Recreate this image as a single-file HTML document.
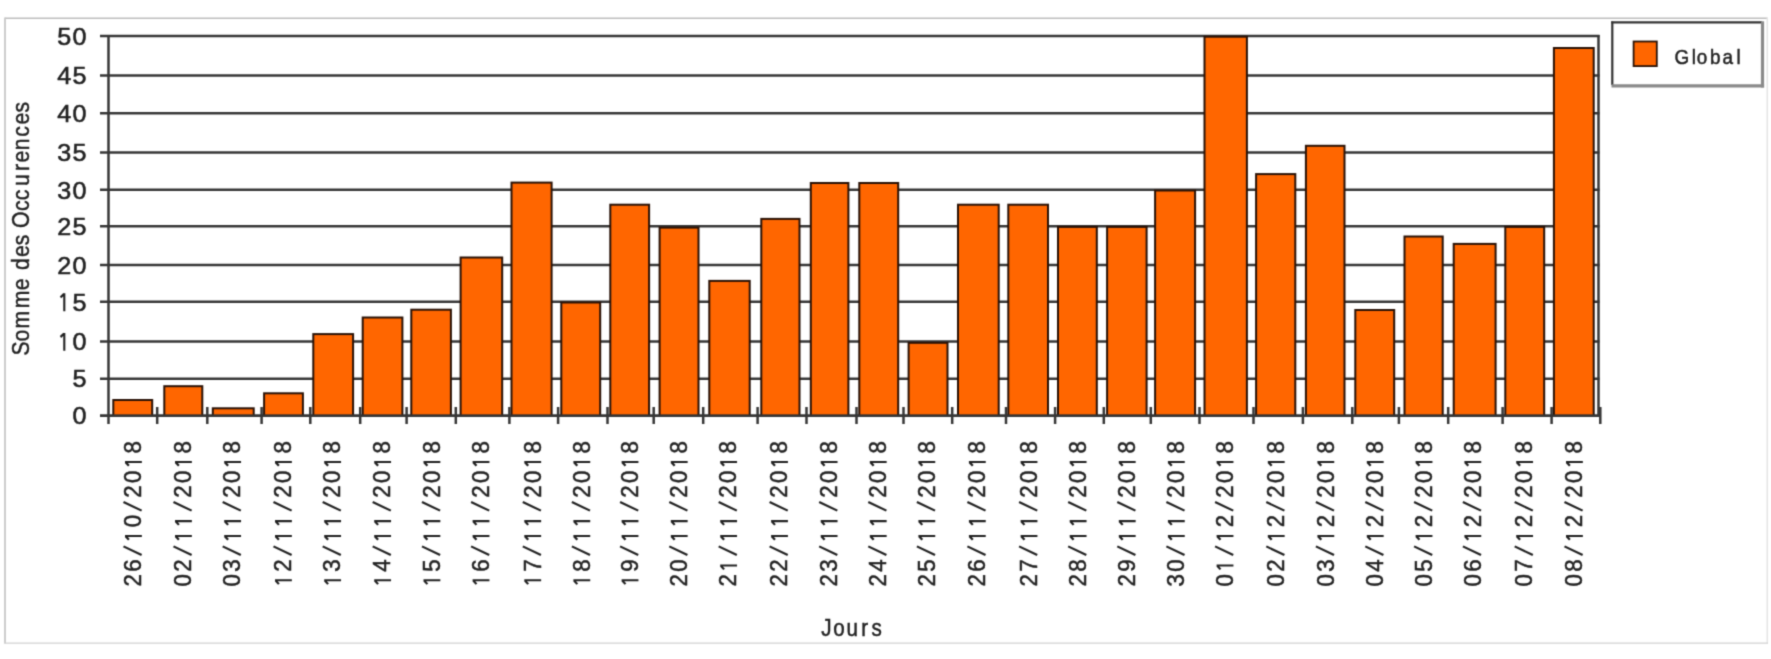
<!DOCTYPE html><html><head><meta charset="utf-8"><style>html,body{margin:0;padding:0;background:#fff;}svg{display:block;}text{font-family:"Liberation Sans", sans-serif;stroke:#222;stroke-width:0.5px;}</style></head><body><div id="w">
<svg width="1771" height="659" viewBox="0 0 1771 659">
<defs><filter id="bl" x="0" y="0" width="1771" height="659" filterUnits="userSpaceOnUse" color-interpolation-filters="sRGB"><feConvolveMatrix order="3" kernelMatrix="0.02768 0.11101 0.02768 0.11101 0.44521 0.11101 0.02768 0.11101 0.02768" divisor="1" edgeMode="duplicate"/></filter></defs>
<rect x="0" y="0" width="1771" height="659" fill="#fff"/>
<g filter="url(#bl)">
<line x1="5" y1="18.3" x2="1767.5" y2="18.3" stroke="#bdbdbd" stroke-width="1.5"/>
<line x1="5" y1="17.6" x2="5" y2="643.6" stroke="#c8c8c8" stroke-width="1.8"/>
<line x1="1767.3" y1="17.6" x2="1767.3" y2="643.6" stroke="#e4e4e4" stroke-width="1.5"/>
<line x1="4.2" y1="643.1" x2="1768" y2="643.1" stroke="#d2d2d2" stroke-width="1.3"/>
<line x1="100" y1="36.1" x2="1599.5" y2="36.1" stroke="#363636" stroke-width="2.5"/>
<line x1="100" y1="75.4" x2="1599.5" y2="75.4" stroke="#363636" stroke-width="2.5"/>
<line x1="100" y1="113.2" x2="1599.5" y2="113.2" stroke="#363636" stroke-width="2.5"/>
<line x1="100" y1="152.5" x2="1599.5" y2="152.5" stroke="#363636" stroke-width="2.5"/>
<line x1="100" y1="189.8" x2="1599.5" y2="189.8" stroke="#363636" stroke-width="2.5"/>
<line x1="100" y1="226.2" x2="1599.5" y2="226.2" stroke="#363636" stroke-width="2.5"/>
<line x1="100" y1="265.1" x2="1599.5" y2="265.1" stroke="#363636" stroke-width="2.5"/>
<line x1="100" y1="301.8" x2="1599.5" y2="301.8" stroke="#363636" stroke-width="2.5"/>
<line x1="100" y1="341.5" x2="1599.5" y2="341.5" stroke="#363636" stroke-width="2.5"/>
<line x1="100" y1="378.7" x2="1599.5" y2="378.7" stroke="#363636" stroke-width="2.5"/>
<line x1="100" y1="415.7" x2="1599.5" y2="415.7" stroke="#363636" stroke-width="2.5"/>
<line x1="108.5" y1="35.1" x2="108.5" y2="424" stroke="#363636" stroke-width="2.5"/>
<line x1="1598.5" y1="35.1" x2="1598.5" y2="415.7" stroke="#363636" stroke-width="2.5"/>
<rect x="113.30" y="400.00" width="38.90" height="15.70" fill="#ff6600" stroke="#2a1206" stroke-width="2"/>
<rect x="164.30" y="386.20" width="38.00" height="29.50" fill="#ff6600" stroke="#2a1206" stroke-width="2"/>
<rect x="212.80" y="408.30" width="40.90" height="7.40" fill="#ff6600" stroke="#2a1206" stroke-width="2"/>
<rect x="264.10" y="393.30" width="38.80" height="22.40" fill="#ff6600" stroke="#2a1206" stroke-width="2"/>
<rect x="313.30" y="334.10" width="39.80" height="81.60" fill="#ff6600" stroke="#2a1206" stroke-width="2"/>
<rect x="362.70" y="317.50" width="39.70" height="98.20" fill="#ff6600" stroke="#2a1206" stroke-width="2"/>
<rect x="411.30" y="309.70" width="39.60" height="106.00" fill="#ff6600" stroke="#2a1206" stroke-width="2"/>
<rect x="460.60" y="257.50" width="41.60" height="158.20" fill="#ff6600" stroke="#2a1206" stroke-width="2"/>
<rect x="511.50" y="182.60" width="40.10" height="233.10" fill="#ff6600" stroke="#2a1206" stroke-width="2"/>
<rect x="561.30" y="302.50" width="38.90" height="113.20" fill="#ff6600" stroke="#2a1206" stroke-width="2"/>
<rect x="610.30" y="204.70" width="38.80" height="211.00" fill="#ff6600" stroke="#2a1206" stroke-width="2"/>
<rect x="659.60" y="227.60" width="38.90" height="188.10" fill="#ff6600" stroke="#2a1206" stroke-width="2"/>
<rect x="709.30" y="280.90" width="40.40" height="134.80" fill="#ff6600" stroke="#2a1206" stroke-width="2"/>
<rect x="761.30" y="218.90" width="38.20" height="196.80" fill="#ff6600" stroke="#2a1206" stroke-width="2"/>
<rect x="810.80" y="183.00" width="37.60" height="232.70" fill="#ff6600" stroke="#2a1206" stroke-width="2"/>
<rect x="859.30" y="183.00" width="38.90" height="232.70" fill="#ff6600" stroke="#2a1206" stroke-width="2"/>
<rect x="908.60" y="342.80" width="38.90" height="72.90" fill="#ff6600" stroke="#2a1206" stroke-width="2"/>
<rect x="958.00" y="204.70" width="40.70" height="211.00" fill="#ff6600" stroke="#2a1206" stroke-width="2"/>
<rect x="1008.30" y="204.70" width="39.70" height="211.00" fill="#ff6600" stroke="#2a1206" stroke-width="2"/>
<rect x="1058.00" y="226.90" width="38.80" height="188.80" fill="#ff6600" stroke="#2a1206" stroke-width="2"/>
<rect x="1107.10" y="226.90" width="39.50" height="188.80" fill="#ff6600" stroke="#2a1206" stroke-width="2"/>
<rect x="1155.10" y="190.50" width="40.00" height="225.20" fill="#ff6600" stroke="#2a1206" stroke-width="2"/>
<rect x="1204.50" y="36.70" width="42.40" height="379.00" fill="#ff6600" stroke="#2a1206" stroke-width="2"/>
<rect x="1256.10" y="174.10" width="39.20" height="241.60" fill="#ff6600" stroke="#2a1206" stroke-width="2"/>
<rect x="1305.90" y="145.80" width="38.60" height="269.90" fill="#ff6600" stroke="#2a1206" stroke-width="2"/>
<rect x="1355.30" y="310.00" width="38.90" height="105.70" fill="#ff6600" stroke="#2a1206" stroke-width="2"/>
<rect x="1404.50" y="236.50" width="38.20" height="179.20" fill="#ff6600" stroke="#2a1206" stroke-width="2"/>
<rect x="1453.70" y="243.90" width="41.90" height="171.80" fill="#ff6600" stroke="#2a1206" stroke-width="2"/>
<rect x="1505.30" y="226.90" width="38.90" height="188.80" fill="#ff6600" stroke="#2a1206" stroke-width="2"/>
<rect x="1553.90" y="48.00" width="39.80" height="367.70" fill="#ff6600" stroke="#2a1206" stroke-width="2"/>
<line x1="100" y1="415.7" x2="1599.5" y2="415.7" stroke="#363636" stroke-width="2.5"/>
<line x1="157.2" y1="407" x2="157.2" y2="424" stroke="#363636" stroke-width="2.5"/>
<line x1="207.3" y1="407" x2="207.3" y2="424" stroke="#363636" stroke-width="2.5"/>
<line x1="261.6" y1="407" x2="261.6" y2="424" stroke="#363636" stroke-width="2.5"/>
<line x1="310.3" y1="407" x2="310.3" y2="424" stroke="#363636" stroke-width="2.5"/>
<line x1="360.2" y1="407" x2="360.2" y2="424" stroke="#363636" stroke-width="2.5"/>
<line x1="406.6" y1="407" x2="406.6" y2="424" stroke="#363636" stroke-width="2.5"/>
<line x1="455.8" y1="407" x2="455.8" y2="424" stroke="#363636" stroke-width="2.5"/>
<line x1="509.4" y1="407" x2="509.4" y2="424" stroke="#363636" stroke-width="2.5"/>
<line x1="558.1" y1="407" x2="558.1" y2="424" stroke="#363636" stroke-width="2.5"/>
<line x1="607.5" y1="407" x2="607.5" y2="424" stroke="#363636" stroke-width="2.5"/>
<line x1="653.7" y1="407" x2="653.7" y2="424" stroke="#363636" stroke-width="2.5"/>
<line x1="703.2" y1="407" x2="703.2" y2="424" stroke="#363636" stroke-width="2.5"/>
<line x1="757.6" y1="407" x2="757.6" y2="424" stroke="#363636" stroke-width="2.5"/>
<line x1="806.5" y1="407" x2="806.5" y2="424" stroke="#363636" stroke-width="2.5"/>
<line x1="856.5" y1="407" x2="856.5" y2="424" stroke="#363636" stroke-width="2.5"/>
<line x1="903.5" y1="407" x2="903.5" y2="424" stroke="#363636" stroke-width="2.5"/>
<line x1="952.2" y1="407" x2="952.2" y2="424" stroke="#363636" stroke-width="2.5"/>
<line x1="1006" y1="407" x2="1006" y2="424" stroke="#363636" stroke-width="2.5"/>
<line x1="1055.1" y1="407" x2="1055.1" y2="424" stroke="#363636" stroke-width="2.5"/>
<line x1="1103.8" y1="407" x2="1103.8" y2="424" stroke="#363636" stroke-width="2.5"/>
<line x1="1150.8" y1="407" x2="1150.8" y2="424" stroke="#363636" stroke-width="2.5"/>
<line x1="1199.5" y1="407" x2="1199.5" y2="424" stroke="#363636" stroke-width="2.5"/>
<line x1="1253.5" y1="407" x2="1253.5" y2="424" stroke="#363636" stroke-width="2.5"/>
<line x1="1302.9" y1="407" x2="1302.9" y2="424" stroke="#363636" stroke-width="2.5"/>
<line x1="1352.3" y1="407" x2="1352.3" y2="424" stroke="#363636" stroke-width="2.5"/>
<line x1="1398.9" y1="407" x2="1398.9" y2="424" stroke="#363636" stroke-width="2.5"/>
<line x1="1448.2" y1="407" x2="1448.2" y2="424" stroke="#363636" stroke-width="2.5"/>
<line x1="1502.6" y1="407" x2="1502.6" y2="424" stroke="#363636" stroke-width="2.5"/>
<line x1="1551.6" y1="407" x2="1551.6" y2="424" stroke="#363636" stroke-width="2.5"/>
<line x1="1600.3" y1="407" x2="1600.3" y2="424" stroke="#363636" stroke-width="2.5"/>
<text x="0" y="0" font-size="21.5" text-anchor="middle" fill="#222" transform="translate(64.30 44.80) scale(1.17 1.1)">5</text>
<text x="0" y="0" font-size="21.5" text-anchor="middle" fill="#222" transform="translate(79.60 44.80) scale(1.17 1.1)">0</text>
<text x="0" y="0" font-size="21.5" text-anchor="middle" fill="#222" transform="translate(64.30 84.10) scale(1.17 1.1)">4</text>
<text x="0" y="0" font-size="21.5" text-anchor="middle" fill="#222" transform="translate(79.60 84.10) scale(1.17 1.1)">5</text>
<text x="0" y="0" font-size="21.5" text-anchor="middle" fill="#222" transform="translate(64.30 121.90) scale(1.17 1.1)">4</text>
<text x="0" y="0" font-size="21.5" text-anchor="middle" fill="#222" transform="translate(79.60 121.90) scale(1.17 1.1)">0</text>
<text x="0" y="0" font-size="21.5" text-anchor="middle" fill="#222" transform="translate(64.30 161.20) scale(1.17 1.1)">3</text>
<text x="0" y="0" font-size="21.5" text-anchor="middle" fill="#222" transform="translate(79.60 161.20) scale(1.17 1.1)">5</text>
<text x="0" y="0" font-size="21.5" text-anchor="middle" fill="#222" transform="translate(64.30 198.50) scale(1.17 1.1)">3</text>
<text x="0" y="0" font-size="21.5" text-anchor="middle" fill="#222" transform="translate(79.60 198.50) scale(1.17 1.1)">0</text>
<text x="0" y="0" font-size="21.5" text-anchor="middle" fill="#222" transform="translate(64.30 234.90) scale(1.17 1.1)">2</text>
<text x="0" y="0" font-size="21.5" text-anchor="middle" fill="#222" transform="translate(79.60 234.90) scale(1.17 1.1)">5</text>
<text x="0" y="0" font-size="21.5" text-anchor="middle" fill="#222" transform="translate(64.30 273.80) scale(1.17 1.1)">2</text>
<text x="0" y="0" font-size="21.5" text-anchor="middle" fill="#222" transform="translate(79.60 273.80) scale(1.17 1.1)">0</text>
<path d="M0.00 0.6V-15.60M-0.30 -15.00L-3.80 -12.00" fill="none" stroke="#222" stroke-width="2.1" transform="translate(64.30 310.50) scale(1 1.1)"/>
<text x="0" y="0" font-size="21.5" text-anchor="middle" fill="#222" transform="translate(79.60 310.50) scale(1.17 1.1)">5</text>
<path d="M0.00 0.6V-15.60M-0.30 -15.00L-3.80 -12.00" fill="none" stroke="#222" stroke-width="2.1" transform="translate(64.30 350.20) scale(1 1.1)"/>
<text x="0" y="0" font-size="21.5" text-anchor="middle" fill="#222" transform="translate(79.60 350.20) scale(1.17 1.1)">0</text>
<text x="0" y="0" font-size="21.5" text-anchor="middle" fill="#222" transform="translate(79.60 387.40) scale(1.17 1.1)">5</text>
<text x="0" y="0" font-size="21.5" text-anchor="middle" fill="#222" transform="translate(79.60 424.40) scale(1.17 1.1)">0</text>
<g transform="translate(141.20 0) rotate(-90) scale(1 1.08)"><text x="-580.30 -565.51 -521.14 -491.56 -476.77 -447.19" y="0" font-size="22.3" text-anchor="middle" fill="#222">260208</text><path d="M-555.02 0.4L-546.42 -16.40M-535.93 0.6V-15.00M-536.23 -14.40L-539.73 -11.40M-510.65 0.4L-502.05 -16.40M-461.98 0.6V-15.00M-462.28 -14.40L-465.78 -11.40" fill="none" stroke="#222" stroke-width="2.1"/></g>
<g transform="translate(191.20 0) rotate(-90) scale(1 1.08)"><text x="-580.30 -565.51 -491.56 -476.77 -447.19" y="0" font-size="22.3" text-anchor="middle" fill="#222">02208</text><path d="M-555.02 0.4L-546.42 -16.40M-535.93 0.6V-15.00M-536.23 -14.40L-539.73 -11.40M-521.14 0.6V-15.00M-521.44 -14.40L-524.94 -11.40M-510.65 0.4L-502.05 -16.40M-461.98 0.6V-15.00M-462.28 -14.40L-465.78 -11.40" fill="none" stroke="#222" stroke-width="2.1"/></g>
<g transform="translate(240.40 0) rotate(-90) scale(1 1.08)"><text x="-580.30 -565.51 -491.56 -476.77 -447.19" y="0" font-size="22.3" text-anchor="middle" fill="#222">03208</text><path d="M-555.02 0.4L-546.42 -16.40M-535.93 0.6V-15.00M-536.23 -14.40L-539.73 -11.40M-521.14 0.6V-15.00M-521.44 -14.40L-524.94 -11.40M-510.65 0.4L-502.05 -16.40M-461.98 0.6V-15.00M-462.28 -14.40L-465.78 -11.40" fill="none" stroke="#222" stroke-width="2.1"/></g>
<g transform="translate(291.20 0) rotate(-90) scale(1 1.08)"><text x="-565.51 -491.56 -476.77 -447.19" y="0" font-size="22.3" text-anchor="middle" fill="#222">2208</text><path d="M-580.30 0.6V-15.00M-580.60 -14.40L-584.10 -11.40M-555.02 0.4L-546.42 -16.40M-535.93 0.6V-15.00M-536.23 -14.40L-539.73 -11.40M-521.14 0.6V-15.00M-521.44 -14.40L-524.94 -11.40M-510.65 0.4L-502.05 -16.40M-461.98 0.6V-15.00M-462.28 -14.40L-465.78 -11.40" fill="none" stroke="#222" stroke-width="2.1"/></g>
<g transform="translate(340.40 0) rotate(-90) scale(1 1.08)"><text x="-565.51 -491.56 -476.77 -447.19" y="0" font-size="22.3" text-anchor="middle" fill="#222">3208</text><path d="M-580.30 0.6V-15.00M-580.60 -14.40L-584.10 -11.40M-555.02 0.4L-546.42 -16.40M-535.93 0.6V-15.00M-536.23 -14.40L-539.73 -11.40M-521.14 0.6V-15.00M-521.44 -14.40L-524.94 -11.40M-510.65 0.4L-502.05 -16.40M-461.98 0.6V-15.00M-462.28 -14.40L-465.78 -11.40" fill="none" stroke="#222" stroke-width="2.1"/></g>
<g transform="translate(390.40 0) rotate(-90) scale(1 1.08)"><text x="-565.51 -491.56 -476.77 -447.19" y="0" font-size="22.3" text-anchor="middle" fill="#222">4208</text><path d="M-580.30 0.6V-15.00M-580.60 -14.40L-584.10 -11.40M-555.02 0.4L-546.42 -16.40M-535.93 0.6V-15.00M-536.23 -14.40L-539.73 -11.40M-521.14 0.6V-15.00M-521.44 -14.40L-524.94 -11.40M-510.65 0.4L-502.05 -16.40M-461.98 0.6V-15.00M-462.28 -14.40L-465.78 -11.40" fill="none" stroke="#222" stroke-width="2.1"/></g>
<g transform="translate(439.70 0) rotate(-90) scale(1 1.08)"><text x="-565.51 -491.56 -476.77 -447.19" y="0" font-size="22.3" text-anchor="middle" fill="#222">5208</text><path d="M-580.30 0.6V-15.00M-580.60 -14.40L-584.10 -11.40M-555.02 0.4L-546.42 -16.40M-535.93 0.6V-15.00M-536.23 -14.40L-539.73 -11.40M-521.14 0.6V-15.00M-521.44 -14.40L-524.94 -11.40M-510.65 0.4L-502.05 -16.40M-461.98 0.6V-15.00M-462.28 -14.40L-465.78 -11.40" fill="none" stroke="#222" stroke-width="2.1"/></g>
<g transform="translate(488.80 0) rotate(-90) scale(1 1.08)"><text x="-565.51 -491.56 -476.77 -447.19" y="0" font-size="22.3" text-anchor="middle" fill="#222">6208</text><path d="M-580.30 0.6V-15.00M-580.60 -14.40L-584.10 -11.40M-555.02 0.4L-546.42 -16.40M-535.93 0.6V-15.00M-536.23 -14.40L-539.73 -11.40M-521.14 0.6V-15.00M-521.44 -14.40L-524.94 -11.40M-510.65 0.4L-502.05 -16.40M-461.98 0.6V-15.00M-462.28 -14.40L-465.78 -11.40" fill="none" stroke="#222" stroke-width="2.1"/></g>
<g transform="translate(540.50 0) rotate(-90) scale(1 1.08)"><text x="-565.51 -491.56 -476.77 -447.19" y="0" font-size="22.3" text-anchor="middle" fill="#222">7208</text><path d="M-580.30 0.6V-15.00M-580.60 -14.40L-584.10 -11.40M-555.02 0.4L-546.42 -16.40M-535.93 0.6V-15.00M-536.23 -14.40L-539.73 -11.40M-521.14 0.6V-15.00M-521.44 -14.40L-524.94 -11.40M-510.65 0.4L-502.05 -16.40M-461.98 0.6V-15.00M-462.28 -14.40L-465.78 -11.40" fill="none" stroke="#222" stroke-width="2.1"/></g>
<g transform="translate(589.60 0) rotate(-90) scale(1 1.08)"><text x="-565.51 -491.56 -476.77 -447.19" y="0" font-size="22.3" text-anchor="middle" fill="#222">8208</text><path d="M-580.30 0.6V-15.00M-580.60 -14.40L-584.10 -11.40M-555.02 0.4L-546.42 -16.40M-535.93 0.6V-15.00M-536.23 -14.40L-539.73 -11.40M-521.14 0.6V-15.00M-521.44 -14.40L-524.94 -11.40M-510.65 0.4L-502.05 -16.40M-461.98 0.6V-15.00M-462.28 -14.40L-465.78 -11.40" fill="none" stroke="#222" stroke-width="2.1"/></g>
<g transform="translate(637.80 0) rotate(-90) scale(1 1.08)"><text x="-565.51 -491.56 -476.77 -447.19" y="0" font-size="22.3" text-anchor="middle" fill="#222">9208</text><path d="M-580.30 0.6V-15.00M-580.60 -14.40L-584.10 -11.40M-555.02 0.4L-546.42 -16.40M-535.93 0.6V-15.00M-536.23 -14.40L-539.73 -11.40M-521.14 0.6V-15.00M-521.44 -14.40L-524.94 -11.40M-510.65 0.4L-502.05 -16.40M-461.98 0.6V-15.00M-462.28 -14.40L-465.78 -11.40" fill="none" stroke="#222" stroke-width="2.1"/></g>
<g transform="translate(687.00 0) rotate(-90) scale(1 1.08)"><text x="-580.30 -565.51 -491.56 -476.77 -447.19" y="0" font-size="22.3" text-anchor="middle" fill="#222">20208</text><path d="M-555.02 0.4L-546.42 -16.40M-535.93 0.6V-15.00M-536.23 -14.40L-539.73 -11.40M-521.14 0.6V-15.00M-521.44 -14.40L-524.94 -11.40M-510.65 0.4L-502.05 -16.40M-461.98 0.6V-15.00M-462.28 -14.40L-465.78 -11.40" fill="none" stroke="#222" stroke-width="2.1"/></g>
<g transform="translate(736.40 0) rotate(-90) scale(1 1.08)"><text x="-580.30 -491.56 -476.77 -447.19" y="0" font-size="22.3" text-anchor="middle" fill="#222">2208</text><path d="M-565.51 0.6V-15.00M-565.81 -14.40L-569.31 -11.40M-555.02 0.4L-546.42 -16.40M-535.93 0.6V-15.00M-536.23 -14.40L-539.73 -11.40M-521.14 0.6V-15.00M-521.44 -14.40L-524.94 -11.40M-510.65 0.4L-502.05 -16.40M-461.98 0.6V-15.00M-462.28 -14.40L-465.78 -11.40" fill="none" stroke="#222" stroke-width="2.1"/></g>
<g transform="translate(787.30 0) rotate(-90) scale(1 1.08)"><text x="-580.30 -565.51 -491.56 -476.77 -447.19" y="0" font-size="22.3" text-anchor="middle" fill="#222">22208</text><path d="M-555.02 0.4L-546.42 -16.40M-535.93 0.6V-15.00M-536.23 -14.40L-539.73 -11.40M-521.14 0.6V-15.00M-521.44 -14.40L-524.94 -11.40M-510.65 0.4L-502.05 -16.40M-461.98 0.6V-15.00M-462.28 -14.40L-465.78 -11.40" fill="none" stroke="#222" stroke-width="2.1"/></g>
<g transform="translate(836.90 0) rotate(-90) scale(1 1.08)"><text x="-580.30 -565.51 -491.56 -476.77 -447.19" y="0" font-size="22.3" text-anchor="middle" fill="#222">23208</text><path d="M-555.02 0.4L-546.42 -16.40M-535.93 0.6V-15.00M-536.23 -14.40L-539.73 -11.40M-521.14 0.6V-15.00M-521.44 -14.40L-524.94 -11.40M-510.65 0.4L-502.05 -16.40M-461.98 0.6V-15.00M-462.28 -14.40L-465.78 -11.40" fill="none" stroke="#222" stroke-width="2.1"/></g>
<g transform="translate(886.00 0) rotate(-90) scale(1 1.08)"><text x="-580.30 -565.51 -491.56 -476.77 -447.19" y="0" font-size="22.3" text-anchor="middle" fill="#222">24208</text><path d="M-555.02 0.4L-546.42 -16.40M-535.93 0.6V-15.00M-536.23 -14.40L-539.73 -11.40M-521.14 0.6V-15.00M-521.44 -14.40L-524.94 -11.40M-510.65 0.4L-502.05 -16.40M-461.98 0.6V-15.00M-462.28 -14.40L-465.78 -11.40" fill="none" stroke="#222" stroke-width="2.1"/></g>
<g transform="translate(934.60 0) rotate(-90) scale(1 1.08)"><text x="-580.30 -565.51 -491.56 -476.77 -447.19" y="0" font-size="22.3" text-anchor="middle" fill="#222">25208</text><path d="M-555.02 0.4L-546.42 -16.40M-535.93 0.6V-15.00M-536.23 -14.40L-539.73 -11.40M-521.14 0.6V-15.00M-521.44 -14.40L-524.94 -11.40M-510.65 0.4L-502.05 -16.40M-461.98 0.6V-15.00M-462.28 -14.40L-465.78 -11.40" fill="none" stroke="#222" stroke-width="2.1"/></g>
<g transform="translate(985.10 0) rotate(-90) scale(1 1.08)"><text x="-580.30 -565.51 -491.56 -476.77 -447.19" y="0" font-size="22.3" text-anchor="middle" fill="#222">26208</text><path d="M-555.02 0.4L-546.42 -16.40M-535.93 0.6V-15.00M-536.23 -14.40L-539.73 -11.40M-521.14 0.6V-15.00M-521.44 -14.40L-524.94 -11.40M-510.65 0.4L-502.05 -16.40M-461.98 0.6V-15.00M-462.28 -14.40L-465.78 -11.40" fill="none" stroke="#222" stroke-width="2.1"/></g>
<g transform="translate(1036.80 0) rotate(-90) scale(1 1.08)"><text x="-580.30 -565.51 -491.56 -476.77 -447.19" y="0" font-size="22.3" text-anchor="middle" fill="#222">27208</text><path d="M-555.02 0.4L-546.42 -16.40M-535.93 0.6V-15.00M-536.23 -14.40L-539.73 -11.40M-521.14 0.6V-15.00M-521.44 -14.40L-524.94 -11.40M-510.65 0.4L-502.05 -16.40M-461.98 0.6V-15.00M-462.28 -14.40L-465.78 -11.40" fill="none" stroke="#222" stroke-width="2.1"/></g>
<g transform="translate(1085.90 0) rotate(-90) scale(1 1.08)"><text x="-580.30 -565.51 -491.56 -476.77 -447.19" y="0" font-size="22.3" text-anchor="middle" fill="#222">28208</text><path d="M-555.02 0.4L-546.42 -16.40M-535.93 0.6V-15.00M-536.23 -14.40L-539.73 -11.40M-521.14 0.6V-15.00M-521.44 -14.40L-524.94 -11.40M-510.65 0.4L-502.05 -16.40M-461.98 0.6V-15.00M-462.28 -14.40L-465.78 -11.40" fill="none" stroke="#222" stroke-width="2.1"/></g>
<g transform="translate(1135.00 0) rotate(-90) scale(1 1.08)"><text x="-580.30 -565.51 -491.56 -476.77 -447.19" y="0" font-size="22.3" text-anchor="middle" fill="#222">29208</text><path d="M-555.02 0.4L-546.42 -16.40M-535.93 0.6V-15.00M-536.23 -14.40L-539.73 -11.40M-521.14 0.6V-15.00M-521.44 -14.40L-524.94 -11.40M-510.65 0.4L-502.05 -16.40M-461.98 0.6V-15.00M-462.28 -14.40L-465.78 -11.40" fill="none" stroke="#222" stroke-width="2.1"/></g>
<g transform="translate(1184.10 0) rotate(-90) scale(1 1.08)"><text x="-580.30 -565.51 -491.56 -476.77 -447.19" y="0" font-size="22.3" text-anchor="middle" fill="#222">30208</text><path d="M-555.02 0.4L-546.42 -16.40M-535.93 0.6V-15.00M-536.23 -14.40L-539.73 -11.40M-521.14 0.6V-15.00M-521.44 -14.40L-524.94 -11.40M-510.65 0.4L-502.05 -16.40M-461.98 0.6V-15.00M-462.28 -14.40L-465.78 -11.40" fill="none" stroke="#222" stroke-width="2.1"/></g>
<g transform="translate(1232.80 0) rotate(-90) scale(1 1.08)"><text x="-580.30 -521.14 -491.56 -476.77 -447.19" y="0" font-size="22.3" text-anchor="middle" fill="#222">02208</text><path d="M-565.51 0.6V-15.00M-565.81 -14.40L-569.31 -11.40M-555.02 0.4L-546.42 -16.40M-535.93 0.6V-15.00M-536.23 -14.40L-539.73 -11.40M-510.65 0.4L-502.05 -16.40M-461.98 0.6V-15.00M-462.28 -14.40L-465.78 -11.40" fill="none" stroke="#222" stroke-width="2.1"/></g>
<g transform="translate(1284.00 0) rotate(-90) scale(1 1.08)"><text x="-580.30 -565.51 -521.14 -491.56 -476.77 -447.19" y="0" font-size="22.3" text-anchor="middle" fill="#222">022208</text><path d="M-555.02 0.4L-546.42 -16.40M-535.93 0.6V-15.00M-536.23 -14.40L-539.73 -11.40M-510.65 0.4L-502.05 -16.40M-461.98 0.6V-15.00M-462.28 -14.40L-465.78 -11.40" fill="none" stroke="#222" stroke-width="2.1"/></g>
<g transform="translate(1333.60 0) rotate(-90) scale(1 1.08)"><text x="-580.30 -565.51 -521.14 -491.56 -476.77 -447.19" y="0" font-size="22.3" text-anchor="middle" fill="#222">032208</text><path d="M-555.02 0.4L-546.42 -16.40M-535.93 0.6V-15.00M-536.23 -14.40L-539.73 -11.40M-510.65 0.4L-502.05 -16.40M-461.98 0.6V-15.00M-462.28 -14.40L-465.78 -11.40" fill="none" stroke="#222" stroke-width="2.1"/></g>
<g transform="translate(1383.00 0) rotate(-90) scale(1 1.08)"><text x="-580.30 -565.51 -521.14 -491.56 -476.77 -447.19" y="0" font-size="22.3" text-anchor="middle" fill="#222">042208</text><path d="M-555.02 0.4L-546.42 -16.40M-535.93 0.6V-15.00M-536.23 -14.40L-539.73 -11.40M-510.65 0.4L-502.05 -16.40M-461.98 0.6V-15.00M-462.28 -14.40L-465.78 -11.40" fill="none" stroke="#222" stroke-width="2.1"/></g>
<g transform="translate(1431.80 0) rotate(-90) scale(1 1.08)"><text x="-580.30 -565.51 -521.14 -491.56 -476.77 -447.19" y="0" font-size="22.3" text-anchor="middle" fill="#222">052208</text><path d="M-555.02 0.4L-546.42 -16.40M-535.93 0.6V-15.00M-536.23 -14.40L-539.73 -11.40M-510.65 0.4L-502.05 -16.40M-461.98 0.6V-15.00M-462.28 -14.40L-465.78 -11.40" fill="none" stroke="#222" stroke-width="2.1"/></g>
<g transform="translate(1480.60 0) rotate(-90) scale(1 1.08)"><text x="-580.30 -565.51 -521.14 -491.56 -476.77 -447.19" y="0" font-size="22.3" text-anchor="middle" fill="#222">062208</text><path d="M-555.02 0.4L-546.42 -16.40M-535.93 0.6V-15.00M-536.23 -14.40L-539.73 -11.40M-510.65 0.4L-502.05 -16.40M-461.98 0.6V-15.00M-462.28 -14.40L-465.78 -11.40" fill="none" stroke="#222" stroke-width="2.1"/></g>
<g transform="translate(1532.40 0) rotate(-90) scale(1 1.08)"><text x="-580.30 -565.51 -521.14 -491.56 -476.77 -447.19" y="0" font-size="22.3" text-anchor="middle" fill="#222">072208</text><path d="M-555.02 0.4L-546.42 -16.40M-535.93 0.6V-15.00M-536.23 -14.40L-539.73 -11.40M-510.65 0.4L-502.05 -16.40M-461.98 0.6V-15.00M-462.28 -14.40L-465.78 -11.40" fill="none" stroke="#222" stroke-width="2.1"/></g>
<g transform="translate(1582.20 0) rotate(-90) scale(1 1.08)"><text x="-580.30 -565.51 -521.14 -491.56 -476.77 -447.19" y="0" font-size="22.3" text-anchor="middle" fill="#222">082208</text><path d="M-555.02 0.4L-546.42 -16.40M-535.93 0.6V-15.00M-536.23 -14.40L-539.73 -11.40M-510.65 0.4L-502.05 -16.40M-461.98 0.6V-15.00M-462.28 -14.40L-465.78 -11.40" fill="none" stroke="#222" stroke-width="2.1"/></g>
<text x="-396.02 -381.53 -363.18 -340.34 -323.07 -311.36 -300.17 -285.45 -272.78 -261.36 -249.77 -233.92 -221.53 -204.55 -190.40 -177.95 -164.15 -149.43 -134.89 -121.76" y="0" font-size="24" text-anchor="middle" fill="#222" transform="translate(29.3 0) rotate(-90) scale(0.88 1)">Somme des Occurences</text>
<text x="960.87 975.47 990.99 1005.35 1019.30" y="636" font-size="24" text-anchor="middle" fill="#222" transform="scale(0.86 1)">Jours</text>
<rect x="1612.3" y="22.4" width="150" height="63" fill="#fff"/>
<line x1="1612.3" y1="21.4" x2="1612.3" y2="85" stroke="#333" stroke-width="2.2"/>
<line x1="1611.2" y1="22.4" x2="1762" y2="22.4" stroke="#333" stroke-width="2.2"/>
<line x1="1762.5" y1="21.3" x2="1762.5" y2="87.5" stroke="#8a8a8a" stroke-width="3.2"/>
<line x1="1611.5" y1="85.8" x2="1764.1" y2="85.8" stroke="#8a8a8a" stroke-width="3.2"/>
<rect x="1633.6" y="41.5" width="23.2" height="24.6" fill="#ff6600" stroke="#2a1206" stroke-width="1.8"/>
<text x="1868.78 1882.11 1891.11 1905.78 1919.67 1931.67" y="64.5" font-size="21" text-anchor="middle" fill="#222" transform="scale(0.9 1)">Global</text>
</g></svg></div></body></html>
